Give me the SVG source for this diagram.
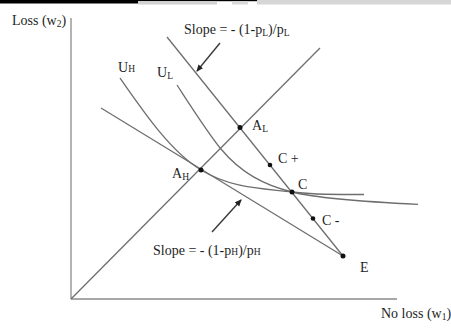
<svg xmlns="http://www.w3.org/2000/svg" width="451" height="329" viewBox="0 0 451 329">
<defs>
<style>
.ax{stroke:#8a8a8a;stroke-width:1.3;fill:none}
.ln{stroke:#6e6e6e;stroke-width:1.3;fill:none}
.ar{stroke:#3a3a3a;stroke-width:1.4;fill:none;marker-end:url(#ah)}
.dot{fill:#111}
text{font-family:"Liberation Serif","Times New Roman",serif;font-size:14px;fill:#1e1e1e}
.sub{font-size:9.5px}
</style>
<marker id="ah" markerWidth="8" markerHeight="8" refX="6" refY="3" orient="auto" markerUnits="userSpaceOnUse">
<path d="M0,0 L7,3 L0,6 Z" fill="#222"/>
</marker>
</defs>
<rect width="451" height="329" fill="#fff"/>
<g id="topstrip">
<rect x="0" y="0" width="138" height="3.5" fill="#000"/>
<rect x="138" y="0" width="119" height="1.2" fill="#000"/>
<rect x="138" y="1.2" width="79" height="3.3" fill="#d2d2d2"/>
<rect x="232" y="1.2" width="16" height="3.3" fill="#d8d8d8"/>
<rect x="257" y="0" width="194" height="4.5" fill="#d6d6d6"/>
</g>
<g id="connectors">
<line class="ax" x1="71" y1="18" x2="71" y2="299"/>
<line class="ax" x1="71" y1="299" x2="397" y2="299"/>
<line class="ln" x1="71" y1="299" x2="320" y2="48"/>
<line class="ln" x1="167" y1="37" x2="343" y2="256"/>
<line class="ln" x1="101" y1="108" x2="343" y2="256"/>
<path id="UH" class="ln" d="M120,78 C145,114 171,151.7 201,170 C231,188.3 262,188.3 292,192 C316,195 340,194.5 364,194.5"/>
<path id="UL" class="ln" d="M177,85 C192,108 209,134.6 221,149 C241,173 264,185 292,192 C322,199.5 390,203 418,204.3"/>
<line class="ar" x1="220" y1="43" x2="197" y2="71"/>
<line class="ar" x1="212" y1="232" x2="241" y2="200"/>
</g>
<g id="A_L"><circle class="dot" cx="240" cy="127.5" r="2.5"/><text x="252" y="130">A<tspan class="sub" dy="2">L</tspan></text></g>
<g id="C_plus"><circle class="dot" cx="270" cy="165" r="2.3"/><text x="278" y="163">C +</text></g>
<g id="C"><circle class="dot" cx="292" cy="192" r="2.5"/><text x="298" y="189">C</text></g>
<g id="C_minus"><circle class="dot" cx="313" cy="218.5" r="2.3"/><text x="322" y="225">C -</text></g>
<g id="A_H"><circle class="dot" cx="201" cy="170" r="2.5"/><text x="172" y="178">A<tspan class="sub" dy="1.5">H</tspan></text></g>
<g id="E"><circle class="dot" cx="343" cy="256" r="2.5"/><text x="360" y="272">E</text></g>
<g id="labels">
<text x="12" y="25">Loss (w<tspan class="sub" dy="2">2</tspan><tspan dy="-2">)</tspan></text>
<text x="381" y="318">No loss (w<tspan class="sub" dy="2">1</tspan><tspan dy="-2">)</tspan></text>
<text x="118" y="72">U<tspan class="sub">H</tspan></text>
<text x="157" y="77">U<tspan class="sub" dy="1.5">L</tspan></text>
<text x="184" y="34">Slope = - (1-p<tspan class="sub" dy="2">L</tspan><tspan dy="-2">)/p</tspan><tspan class="sub" dy="2">L</tspan></text>
<text x="153" y="255">Slope = - (1-p<tspan class="sub">H</tspan>)/p<tspan class="sub">H</tspan></text>
</g>
</svg>
